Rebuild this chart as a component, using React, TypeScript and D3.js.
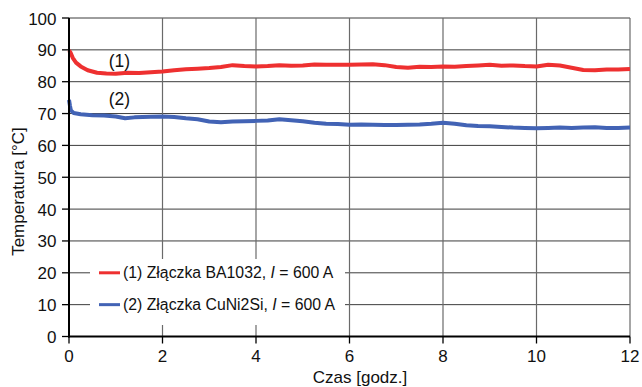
import React from "react";
import * as d3 from "d3";

// Time axis (hours) and temperatures (°C) for the two connectors
const timeRed = [0, 0.03, 0.08, 0.15, 0.25, 0.4, 0.6, 0.8, 1.0, 1.25, 1.5, 1.75, 2.0, 2.25, 2.5, 2.75, 3.0, 3.25, 3.5, 3.75, 4.0, 4.25, 4.5, 4.75, 5.0, 5.25, 5.5, 5.75, 6.0, 6.25, 6.5, 6.75, 7.0, 7.25, 7.5, 7.75, 8.0, 8.25, 8.5, 8.75, 9.0, 9.25, 9.5, 9.75, 10.0, 10.25, 10.5, 10.75, 11.0, 11.25, 11.5, 11.75, 12.0];
const tempRed = [89.8, 89.2, 87.5, 86.0, 84.8, 83.6, 82.8, 82.6, 82.5, 82.8, 82.7, 83.0, 83.2, 83.6, 83.9, 84.1, 84.3, 84.6, 85.2, 84.9, 84.8, 84.9, 85.2, 85.0, 85.1, 85.4, 85.3, 85.3, 85.3, 85.4, 85.5, 85.2, 84.6, 84.4, 84.7, 84.6, 84.8, 84.7, 84.9, 85.1, 85.3, 85.0, 85.1, 84.9, 84.8, 85.3, 85.1, 84.4, 83.7, 83.6, 83.8, 83.8, 84.0];

const timeBlue = [0, 0.02, 0.04, 0.1, 0.25, 0.5, 0.75, 1.0, 1.2, 1.4, 1.75, 2.0, 2.25, 2.5, 2.75, 3.0, 3.25, 3.5, 3.75, 4.0, 4.25, 4.5, 4.75, 5.0, 5.25, 5.5, 5.75, 6.0, 6.25, 6.5, 6.75, 7.0, 7.25, 7.5, 7.75, 8.0, 8.25, 8.5, 8.75, 9.0, 9.25, 9.5, 9.75, 10.0, 10.25, 10.5, 10.75, 11.0, 11.25, 11.5, 11.75, 12.0];
const tempBlue = [74.3, 72.5, 71.0, 70.2, 69.8, 69.5, 69.4, 69.1, 68.5, 68.8, 69.0, 69.1, 68.9, 68.5, 68.2, 67.5, 67.3, 67.5, 67.6, 67.7, 67.8, 68.2, 67.9, 67.6, 67.1, 66.8, 66.7, 66.5, 66.6, 66.5, 66.4, 66.4, 66.5, 66.6, 66.8, 67.1, 66.8, 66.3, 66.1, 66.0, 65.8, 65.6, 65.5, 65.4, 65.5, 65.6, 65.5, 65.6, 65.7, 65.5, 65.5, 65.6];

const xTicks = [0, 2, 4, 6, 8, 10, 12];
const yTicks = [0, 10, 20, 30, 40, 50, 60, 70, 80, 90, 100];

const seriesNames = ["(1) Złączka BA1032, ", "(2) Złączka CuNi2Si, "];
const seriesColors = ["#ee3030", "#4263b5"];
const curveLabels = ["(1)", "(2)"];

const W = 642;
const H = 387;
const FONT = "'Liberation Sans', Arial, Helvetica, sans-serif";

export default function App() {
  const x = d3.scaleLinear().domain([0, 12]).range([69, 630]);
  const y = d3.scaleLinear().domain([0, 100]).range([336.5, 18]);

  const line = d3
    .line<[number, number]>()
    .x((d) => x(d[0]))
    .y((d) => y(d[1]))
    .curve(d3.curveLinear);

  const redData = timeRed.map((t, i) => [t, tempRed[i]] as [number, number]);
  const blueData = timeBlue.map((t, i) => [t, tempBlue[i]] as [number, number]);

  const legendRows = [20, 10];

  return (
    <svg
      width={W}
      height={H}
      style={{ position: "absolute", left: 0, top: 0, background: "#fff" }}
      fontFamily={FONT}
    >
      {/* grid */}
      {yTicks.filter((v) => v > 0).map((v) => (
        <line key={"gy" + v} x1={x(0)} x2={x(12)} y1={y(v)} y2={y(v)} stroke="#3c3c3c" strokeWidth={1} />
      ))}
      {xTicks.filter((v) => v > 0).map((v) => (
        <line key={"gx" + v} x1={x(v)} x2={x(v)} y1={y(0)} y2={y(100)} stroke="#6a6a6a" strokeWidth={1.2} />
      ))}

      {/* legend panel */}
      <rect x={90} y={259} width={255} height={66} fill="#fff" />
      {legendRows.map((v, i) => (
        <g key={"lg" + i}>
          <line x1={99} x2={120} y1={y(v)} y2={y(v)} stroke={seriesColors[i]} strokeWidth={3} />
          <text x={123} y={y(v) + 5.5} fontSize={15.8} fill="#111">
            {seriesNames[i]}
            <tspan fontStyle="italic">I</tspan>
            {" = 600 A"}
          </text>
        </g>
      ))}

      {/* data lines */}
      <path d={line(redData) || ""} fill="none" stroke={seriesColors[0]} strokeWidth={4} strokeLinejoin="round" />
      <path d={line(blueData) || ""} fill="none" stroke={seriesColors[1]} strokeWidth={4} strokeLinejoin="round" />

      {/* curve labels */}
      <text x={119.5} y={66.5} fontSize={17.5} textAnchor="middle" fill="#111">{curveLabels[0]}</text>
      <text x={119.5} y={104.5} fontSize={17.5} textAnchor="middle" fill="#111">{curveLabels[1]}</text>

      {/* axes */}
      <line x1={x(0)} x2={x(0)} y1={y(100)} y2={y(0) + 1} stroke="#000" strokeWidth={2} />
      <line x1={x(0) - 1} x2={x(12)} y1={y(0)} y2={y(0)} stroke="#000" strokeWidth={2.2} />
      {yTicks.map((v) => (
        <g key={"ty" + v}>
          <line x1={x(0) - 7} x2={x(0)} y1={y(v)} y2={y(v)} stroke="#000" strokeWidth={1.3} />
          <text x={56.5} y={y(v) + 6.5} fontSize={17} textAnchor="end" fill="#111">{v}</text>
        </g>
      ))}
      {xTicks.map((v) => (
        <g key={"tx" + v}>
          <line x1={x(v)} x2={x(v)} y1={y(0)} y2={y(0) + 7} stroke="#000" strokeWidth={1.3} />
          <text x={x(v)} y={361.5} fontSize={17} textAnchor="middle" fill="#111">{v}</text>
        </g>
      ))}

      {/* axis titles */}
      <text x={360} y={383} fontSize={17} textAnchor="middle" fill="#111">Czas [godz.]</text>
      <text
        transform={`translate(24, 191.5) rotate(-90)`}
        fontSize={17}
        textAnchor="middle"
        fill="#111"
      >
        Temperatura [°C]
      </text>
    </svg>
  );
}
